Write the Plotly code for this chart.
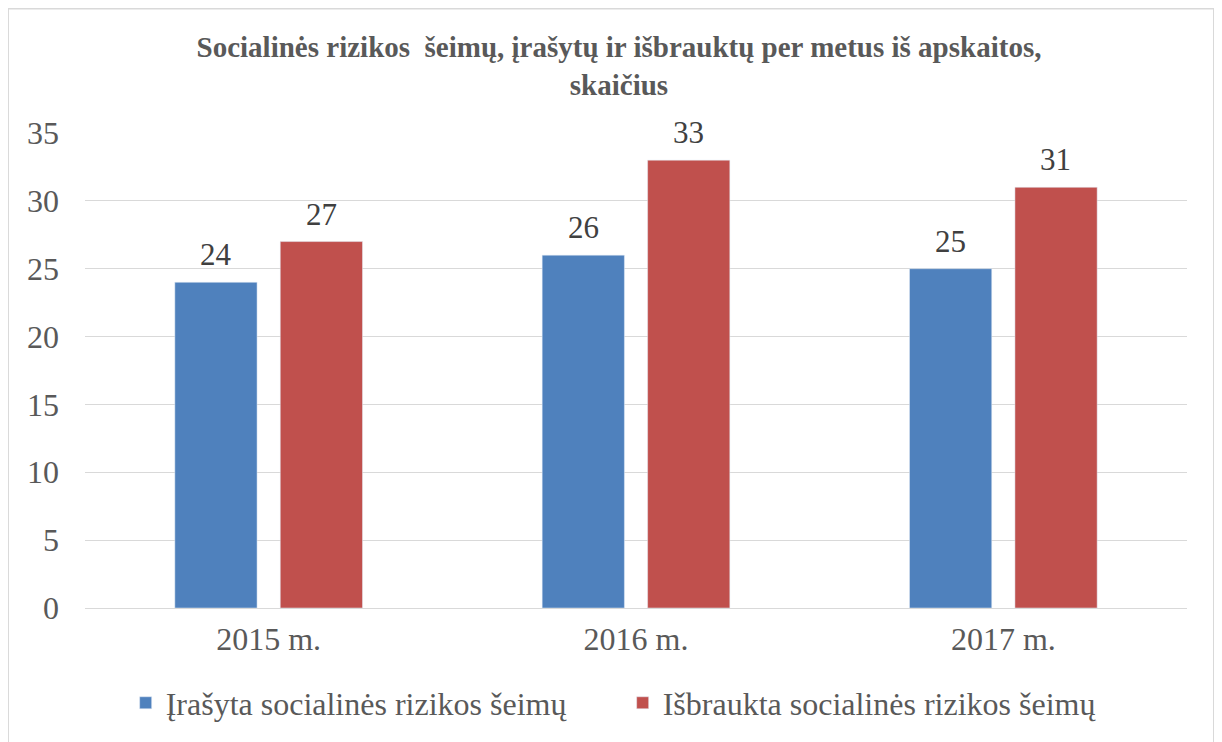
import plotly.graph_objects as go

categories = ["2015 m.", "2016 m.", "2017 m."]
irasyta = [24, 26, 25]
isbraukta = [27, 33, 31]
series_names = ["Įrašyta socialinės rizikos šeimų", "Išbraukta socialinės rizikos šeimų"]
title_text = "Socialinės rizikos  šeimų, įrašytų ir išbrauktų per metus iš apskaitos,<br>skaičius"

serif = "Liberation Serif"
txt = "#595959"

fig = go.Figure()
fig.add_trace(go.Bar(x=categories, y=irasyta, name=series_names[0], marker_color="#4F81BD"))
fig.add_trace(go.Bar(x=categories, y=isbraukta, name=series_names[1], marker_color="#C0504D"))

# value labels above bars (offset to each bar of the group)
for vals, shift in ((irasyta, -52.5), (isbraukta, 52.5)):
    for c, v in zip(categories, vals):
        fig.add_annotation(x=c, y=v, xref="x", yref="y", text=str(v), showarrow=False,
                           xshift=shift, yshift=8, yanchor="bottom",
                           font=dict(family=serif, size=31, color="#404040"))

fig.update_layout(
    width=1222, height=742,
    paper_bgcolor="white", plot_bgcolor="white",
    margin=dict(l=77, r=43, t=125, b=142, autoexpand=False),
    barmode="group", bargap=0.426, bargroupgap=0.22,
    title=dict(text="<b>" + title_text + "</b>", x=0.5, xanchor="center",
               xref="container", yref="container", y=0.934, yanchor="top",
               font=dict(family=serif, size=29, color=txt)),
    font=dict(family=serif, color=txt),
    legend=dict(orientation="h", xref="container", x=0.503, xanchor="center", y=-0.142, yanchor="top",
                font=dict(family=serif, size=32, color=txt), entrywidth=452,
                traceorder="normal", tracegroupgap=0),
    showlegend=True,
)
fig.update_yaxes(range=[0, 35], dtick=5, showgrid=True, gridcolor="#d9d9d9", gridwidth=1,
                 zeroline=False, showline=False, ticks="", ticklabelstandoff=25, automargin=False,
                 tickfont=dict(family=serif, size=32, color=txt))
fig.update_xaxes(showline=True, linecolor="#d9d9d9", linewidth=1, ticks="", automargin=False,
                 tickfont=dict(family=serif, size=32, color=txt), ticklabelstandoff=3)

fig.add_shape(type="path", xref="paper", yref="paper",
              path="M -0.0699 -0.3 L -0.0699 1.262 L 1.0245 1.262 L 1.0245 -0.3",
              line=dict(color="#d9d9d9", width=2))

fig.write_html("out.html")
